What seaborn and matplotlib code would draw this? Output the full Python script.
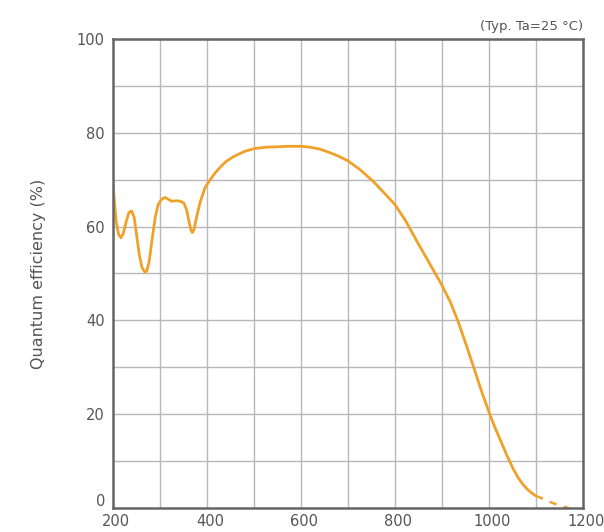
import matplotlib
matplotlib.use("Agg")
import matplotlib.pyplot as plt
import matplotlib.transforms as mtransforms
import seaborn as sns
import pandas as pd
from matplotlib.ticker import MultipleLocator

# -----------------------
# Data
# -----------------------
wavelength = [200, 203, 207, 212, 217, 222, 228, 234, 240, 245, 250, 256, 262,
              268, 272, 277, 283, 290, 296, 303, 311, 318, 325, 335, 343, 351,
              357, 362, 366, 369, 373, 378, 385, 396, 407, 418, 430, 440, 455,
              467, 480, 500, 525, 550, 575, 600, 620, 640, 660, 680, 700, 725,
              753, 775, 800, 823, 846, 870, 900, 918, 934, 950, 968, 985, 1000,
              1012, 1024, 1038, 1051, 1062, 1072, 1083, 1094, 1100]
qe = [69.0, 65.5, 61.0, 58.3, 57.6, 58.5, 61.0, 63.0, 63.3, 62.0, 58.5, 54.0, 51.2,
      50.3, 50.5, 52.5, 57.0, 62.0, 64.6, 65.8, 66.2, 65.8, 65.4, 65.5, 65.4, 65.0,
      63.5, 61.0, 59.2, 58.7, 59.5, 62.0, 65.0, 68.3, 70.0, 71.5, 72.8, 73.8, 74.8,
      75.4, 76.0, 76.6, 76.9, 77.0, 77.1, 77.1, 76.9, 76.5, 75.8, 75.0, 74.0, 72.2,
      69.7, 67.4, 64.7, 61.2, 57.0, 52.8, 47.5, 43.9, 39.9, 35.3, 29.9, 24.7, 20.5,
      17.4, 14.6, 11.3, 8.5, 6.5, 5.1, 3.9, 3.0, 2.6]

ext_wavelength = [1100, 1115, 1135, 1155, 1170]
ext_qe = [2.6, 2.0, 1.1, 0.4, 0.0]

x_ticks = [200, 400, 600, 800, 1000, 1200]
y_ticks = [0, 20, 40, 60, 80, 100]
y_labels = ["", "20", "40", "60", "80", "100"]  # "0" is placed by hand below

df = pd.DataFrame({"wavelength": wavelength, "qe": qe})
ext = pd.DataFrame({"wavelength": ext_wavelength, "qe": ext_qe})

# -----------------------
# Plot
# -----------------------
sns.set_style("white")
plt.rcParams["font.family"] = ["DejaVu Sans"]

fig = plt.figure(figsize=(6.04, 5.32), dpi=100)
ax = fig.add_axes([0.187, 0.045, 0.778, 0.882])

line_color = "#EFA12A"
sns.lineplot(data=df, x="wavelength", y="qe", ax=ax, color=line_color,
             linewidth=2.0, sort=False)
sns.lineplot(data=ext, x="wavelength", y="qe", ax=ax, color=line_color,
             linewidth=1.8, linestyle=(0, (3, 3)), sort=False)

ax.set_xlim(200, 1200)
ax.set_ylim(0, 100)
ax.set_xticks(x_ticks)
ax.set_yticks(y_ticks)
ax.set_yticklabels(y_labels)
ax.xaxis.set_minor_locator(MultipleLocator(100))
ax.yaxis.set_minor_locator(MultipleLocator(10))
ax.grid(True, which="both", color="#b8b8b8", linewidth=1.0)
ax.set_axisbelow(True)

ax.tick_params(axis="both", which="both", length=0, labelsize=10.5,
               labelcolor="#555555")
ax.tick_params(axis="x", pad=4)
ax.tick_params(axis="y", pad=6)

# x labels sit a little right of their grid lines in the reference
shift = mtransforms.ScaledTranslation(3 / 100, 0, fig.dpi_scale_trans)
for lab in ax.get_xticklabels():
    lab.set_transform(lab.get_transform() + shift)

# the "0" label is raised to keep clear of "200"
ax.annotate("0", xy=(0, 0), xycoords=ax.get_yaxis_transform(),
            xytext=(-5.5, 5), textcoords="offset points",
            ha="right", va="center", fontsize=10.5, color="#555555")

for s in ax.spines.values():
    s.set_color("#666666")
    s.set_linewidth(1.8)

ax.set_xlabel("")
ax.set_ylabel("Quantum efficiency (%)", fontsize=11.5, color="#555555",
              labelpad=22)

ax.text(1.0, 1.012, "(Typ. Ta=25 °C)", transform=ax.transAxes,
        ha="right", va="bottom", fontsize=9.5, color="#555555")

fig.savefig("out.png", dpi=100)
